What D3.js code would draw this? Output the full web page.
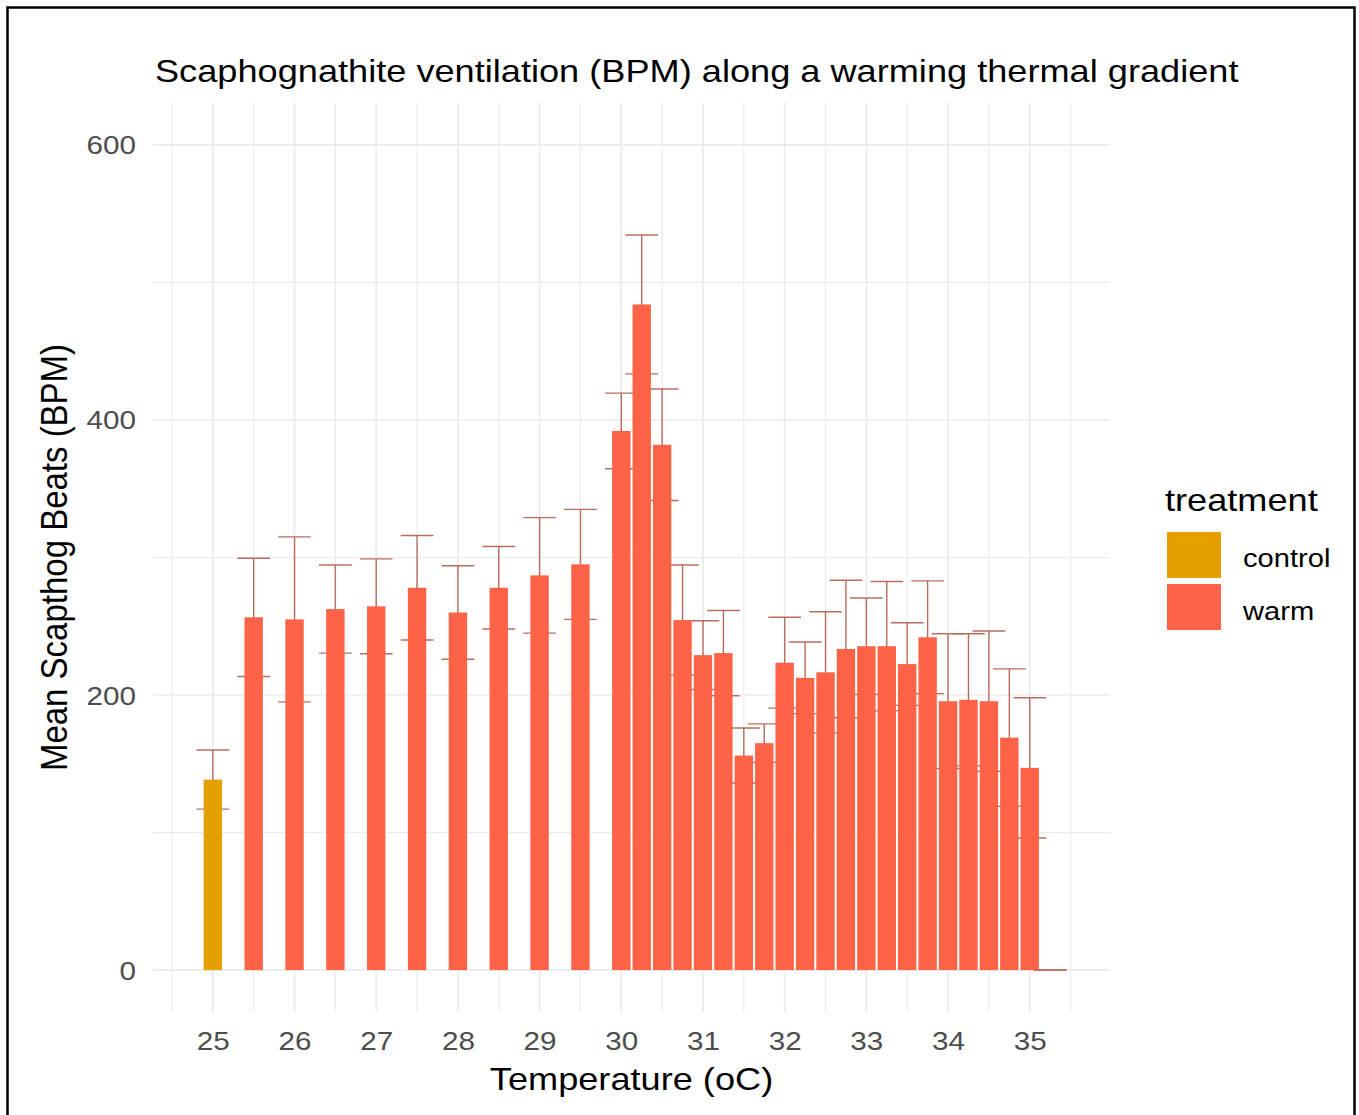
<!DOCTYPE html>
<html>
<head>
<meta charset="utf-8">
<script src="https://cdn.jsdelivr.net/npm/d3@7"></script>
<style>
  html, body { margin: 0; padding: 0; background: #fff; }
  svg { display: block; }
  text { font-family: "Liberation Sans", Arial, sans-serif; }
</style>
</head>
<body>
<svg id="chart" width="1359" height="1115"></svg>
<script>
// Temperature steps along the gradient (oC)
const temperatures = [25, 25.5, 26, 26.5, 27, 27.5, 28, 28.5, 29, 29.5,
  30, 30.25, 30.5, 30.75, 31, 31.25, 31.5, 31.75, 32, 32.25, 32.5, 32.75,
  33, 33.25, 33.5, 33.75, 34, 34.25, 34.5, 34.75, 35, 35.25];
// Treatment group of each step
const treatments = ["control"].concat(d3.range(temperatures.length - 1).map(() => "warm"));
// Mean scaphognathite beats per minute
const meanBPM = [138.5, 256.5, 255, 262.5, 264.5, 278, 260, 278, 287, 295,
  392, 484, 382, 254.5, 229, 230.5, 156, 165, 223.5, 212.5, 216.5, 233.5,
  235.5, 235.5, 222.5, 242, 195.5, 196.5, 195.5, 169, 147, 0];
// Standard error of the mean
const seBPM = [21.5, 43, 60, 32, 34.5, 38, 34, 30, 42, 40,
  27.5, 50.5, 40.5, 40, 25, 31, 20, 14, 33, 26, 44, 50,
  35, 47, 30, 41, 49, 48, 51, 50, 51, 0];

const xTicks = [25, 26, 27, 28, 29, 30, 31, 32, 33, 34, 35];
const yTicks = [0, 200, 400, 600];
const treatmentLevels = ["control", "warm"];
const treatmentColors = ["#E69F00", "#FF6347"];

const rows = temperatures.map((t, i) => ({
  temp: t, treatment: treatments[i], mean: meanBPM[i], se: seBPM[i]
}));

const svg = d3.select("#chart");
const panel = { left: 153, right: 1110, top: 103, bottom: 1012 };
const textStretch = 1.12;

const barWidth = 0.225;   // 0.9 of the 0.25 oC resolution
const capWidth = 0.4;

// Continuous x scale with 5% padding around bars and error caps
const xLo = d3.min(rows, d => d.temp) - capWidth / 2;
const xHi = d3.max(rows, d => d.temp) + capWidth / 2;
const xPad = (xHi - xLo) * 0.05;
const x = d3.scaleLinear().domain([xLo - xPad, xHi + xPad]).range([panel.left, panel.right]);
const y = d3.scaleLinear().domain([-30.5, 630.5]).range([panel.bottom, panel.top]);
const color = d3.scaleOrdinal().domain(treatmentLevels).range(treatmentColors);

// Outer frame
svg.append("rect")
  .attr("x", 7.5).attr("y", 7.5).attr("width", 1347).attr("height", 1125)
  .attr("fill", "#fff").attr("stroke", "#000").attr("stroke-width", 2.5);

// Grid lines
const grid = svg.append("g").attr("stroke", "#EBEBEB").attr("fill", "none");
const xMinor = d3.range(24.5, 36, 1).filter(v => v >= x.domain()[0] && v <= x.domain()[1]);
const yMinor = [100, 300, 500];
grid.selectAll(".xminor").data(xMinor).join("line")
  .attr("x1", d => x(d)).attr("x2", d => x(d))
  .attr("y1", panel.top).attr("y2", panel.bottom).attr("stroke-width", 1.2);
grid.selectAll(".yminor").data(yMinor).join("line")
  .attr("y1", d => y(d)).attr("y2", d => y(d))
  .attr("x1", panel.left).attr("x2", panel.right).attr("stroke-width", 1.2);
grid.selectAll(".xmajor").data(xTicks).join("line")
  .attr("x1", d => x(d)).attr("x2", d => x(d))
  .attr("y1", panel.top).attr("y2", panel.bottom).attr("stroke-width", 1.7);
grid.selectAll(".ymajor").data(yTicks).join("line")
  .attr("y1", d => y(d)).attr("y2", d => y(d))
  .attr("x1", panel.left).attr("x2", panel.right).attr("stroke-width", 1.7);

// Error bars (drawn beneath the bars)
const eb = svg.append("g").attr("stroke", "#B86C5E").attr("stroke-width", 1.4).attr("fill", "none");
rows.forEach(d => {
  const lo = d.mean - d.se, hi = d.mean + d.se;
  eb.append("line").attr("x1", x(d.temp)).attr("x2", x(d.temp)).attr("y1", y(lo)).attr("y2", y(hi));
  eb.append("line").attr("x1", x(d.temp - capWidth / 2)).attr("x2", x(d.temp + capWidth / 2)).attr("y1", y(hi)).attr("y2", y(hi));
  eb.append("line").attr("x1", x(d.temp - capWidth / 2)).attr("x2", x(d.temp + capWidth / 2)).attr("y1", y(lo)).attr("y2", y(lo));
});

// Bars
svg.append("g").selectAll("rect").data(rows).join("rect")
  .attr("x", d => x(d.temp - barWidth / 2))
  .attr("width", d => x(d.temp + barWidth / 2) - x(d.temp - barWidth / 2))
  .attr("y", d => y(Math.max(0, d.mean)))
  .attr("height", d => Math.abs(y(0) - y(d.mean)))
  .attr("fill", d => color(d.treatment));

// Helper for horizontally stretched text
function label(g, txt, px, py, size, anchor, fill) {
  return g.append("text")
    .attr("transform", `translate(${px},${py}) scale(${textStretch},1)`)
    .attr("text-anchor", anchor)
    .attr("font-size", size)
    .attr("fill", fill)
    .text(txt);
}

// Axis tick labels
const axisX = d3.axisBottom(x).tickValues(xTicks).tickSize(0).tickPadding(0);
const axisY = d3.axisLeft(y).tickValues(yTicks).tickSize(0).tickPadding(0);
const gx = svg.append("g").attr("transform", `translate(0,${panel.bottom})`).call(axisX);
const gy = svg.append("g").attr("transform", `translate(${panel.left},0)`).call(axisY);
[gx, gy].forEach(g => g.select(".domain").remove());
gx.selectAll(".tick text")
  .attr("font-size", 26.5).attr("fill", "#4D4D4D").attr("font-family", "Liberation Sans, Arial, sans-serif")
  .attr("dy", null).attr("y", null)
  .attr("transform", `translate(0,38) scale(${textStretch},1)`);
gy.selectAll(".tick text")
  .attr("font-size", 26.5).attr("fill", "#4D4D4D").attr("font-family", "Liberation Sans, Arial, sans-serif")
  .attr("dy", null).attr("x", null).attr("text-anchor", "end")
  .attr("transform", `translate(-17,9) scale(${textStretch},1)`);

// Titles
const texts = svg.append("g");
label(texts, "Scaphognathite ventilation (BPM) along a warming thermal gradient", 155, 82, 32.3, "start", "#000");
label(texts, "Temperature (oC)", (panel.left + panel.right) / 2, 1090, 32.3, "middle", "#000");
texts.append("text")
  .attr("transform", `translate(67,${(panel.top + panel.bottom) / 2}) rotate(-90) scale(1,${textStretch})`)
  .attr("text-anchor", "middle").attr("font-size", 33).attr("fill", "#000")
  .text("Mean Scapthog Beats (BPM)");

// Legend
const legend = svg.append("g");
label(legend, "treatment", 1165, 511, 32.3, "start", "#000");
treatmentLevels.forEach((lvl, i) => {
  legend.append("rect")
    .attr("x", 1167).attr("y", 532 + i * 52).attr("width", 54).attr("height", 46)
    .attr("fill", color(lvl));
  label(legend, lvl, 1243, 567 + i * 53, 26, "start", "#000");
});
</script>
</body>
</html>
